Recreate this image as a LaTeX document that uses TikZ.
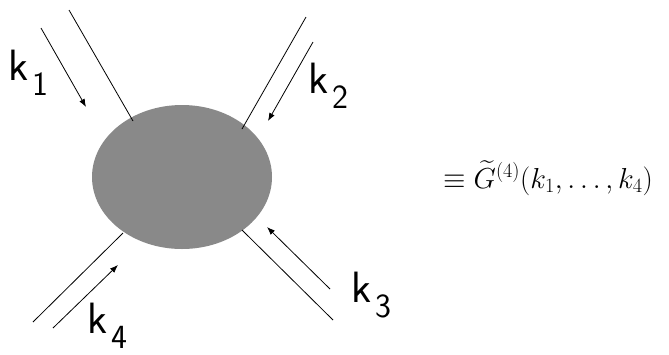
\RequirePackage{fix-cm}
\documentclass[tikz,border=0pt]{standalone}
\usepackage{amsmath}
\usepackage{fontspec}
\usetikzlibrary{arrows.meta,shapes.geometric}
\definecolor{blobgray}{RGB}{137,137,137}
\newcommand{\klab}[1]{\sffamily\fontsize{44}{44}\selectfont k\kern4bp\raisebox{-0.34em}{\fontsize{34}{34}\selectfont #1}}
\begin{document}
\begin{tikzpicture}[x=1bp,y=-1bp,
  leg/.style={line width=0.8bp},
  mom/.style={line width=0.8bp,-{Latex[length=8bp,width=6bp]}},
  klabel/.style={inner sep=0pt}]
\useasboundingbox (0,0) rectangle (669,354);
\node[ellipse,fill=blobgray,minimum width=180bp,minimum height=144bp,inner sep=0pt] (blob) at (182,177) {};
% formula
\node[anchor=base west,inner sep=0pt,font=\fontsize{29}{34}\selectfont] (eq) at (443,188) {$\equiv \widetilde{G}^{(4)}(k_1,\ldots,k_4)$};
% legs
\coordinate (l1o) at (69,10);   \coordinate (l1i) at (133,121);
\coordinate (l2o) at (306,17);  \coordinate (l2i) at (242,129);
\coordinate (l3o) at (333,320); \coordinate (l3i) at (242,230);
\coordinate (l4o) at (33,322);  \coordinate (l4i) at (123,233);
\draw[leg] (l1o) -- (l1i);
\draw[leg] (l2o) -- (l2i);
\draw[leg] (l3o) -- (l3i);
\draw[leg] (l4o) -- (l4i);
% momenta arrows
\coordinate (a1s) at (41,28);   \coordinate (a1e) at (86,107);
\coordinate (a2s) at (313,42);  \coordinate (a2e) at (268,121);
\coordinate (a3s) at (330,289); \coordinate (a3e) at (267,227);
\coordinate (a4s) at (53,328);  \coordinate (a4e) at (118,265);
\draw[mom] (a1s) -- (a1e);
\draw[mom] (a2s) -- (a2e);
\draw[mom] (a3s) -- (a3e);
\draw[mom] (a4s) -- (a4e);
% labels
\node[klabel] (k1) at (28,73) {\klab{1}};
\node[klabel] (k2) at (328,86) {\klab{2}};
\node[klabel] (k3) at (371,295) {\klab{3}};
\node[klabel] (k4) at (107,326) {\klab{4}};
\end{tikzpicture}
\end{document}
